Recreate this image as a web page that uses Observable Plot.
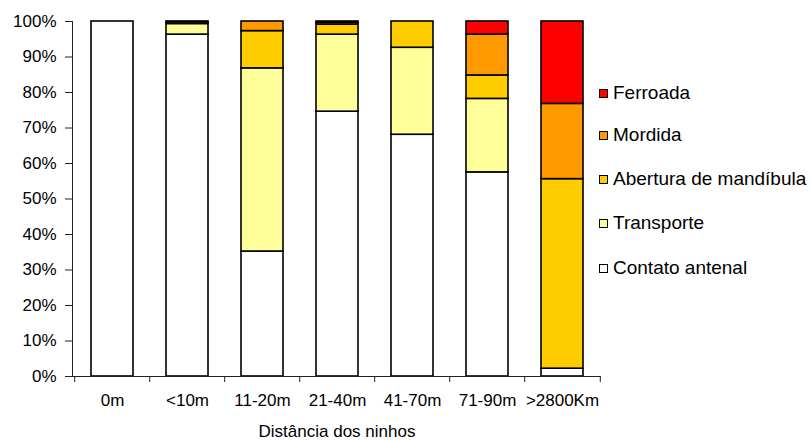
<!DOCTYPE html>
<html>
<head>
<meta charset="utf-8">
<script src="https://cdn.jsdelivr.net/npm/d3@7"></script>
<script src="https://cdn.jsdelivr.net/npm/@observablehq/plot@0.6"></script>
<style>
  html, body { margin: 0; padding: 0; background: #fff; }
  #wrap { position: relative; width: 812px; height: 441px; font-family: "Liberation Sans", Arial, sans-serif; }
  #legend { position: absolute; left: 599px; top: 0; z-index: 5; }
  .item { position: absolute; display: flex; align-items: center; white-space: nowrap; font-size: 19px; color: #000; transform: translateY(-50%); }
  .sw { width: 7px; height: 7px; border: 1px solid #000; margin-right: 5px; flex: none; }
</style>
</head>
<body>
<div id="wrap"><div id="legend"></div></div>
<script>
const categories = ["0m", "<10m", "11-20m", "21-40m", "41-70m", "71-90m", ">2800Km"];
const seriesNames = ["Contato antenal", "Transporte", "Abertura de mandíbula", "Mordida", "Ferroada"];
const seriesColors = ["#FFFFFF", "#FFFF99", "#FFCC00", "#FF9900", "#FF0000"];
const contato    = [100, 96.3, 35.2, 74.6, 68.1, 57.5, 2.2];
const transporte = [0, 3.0, 51.6, 21.7, 24.5, 20.7, 0];
const abertura   = [0, 0.5, 10.5, 2.8, 7.4, 6.6, 53.4];
const mordida    = [0, 0.2, 2.7, 0.5, 0, 11.5, 21.2];
const ferroada   = [0, 0, 0, 0.4, 0, 3.7, 23.2];
const yTicks = [0, 10, 20, 30, 40, 50, 60, 70, 80, 90, 100];
const xTitle = "Distância dos ninhos";

const seriesValues = [contato, transporte, abertura, mordida, ferroada];
const rows = [];
seriesNames.forEach((s, i) => categories.forEach((c, j) => {
  if (seriesValues[i][j] > 0) rows.push({cat: c, series: s, value: seriesValues[i][j]});
}));

const W = 812, H = 441, mL = 72, mR = 211, mT = 21, mB = 65;
const step = (W - mL - mR) / categories.length;

const chart = Plot.plot({
  width: W, height: H,
  marginLeft: mL, marginRight: mR, marginTop: mT, marginBottom: mB,
  style: {fontFamily: "'Liberation Sans', Arial, sans-serif", fontSize: "17px", color: "#000", background: "#fff"},
  x: {domain: categories, paddingInner: 0.44, paddingOuter: 0.22, label: null},
  y: {domain: [0, 100], label: null},
  color: {domain: seriesNames, range: seriesColors},
  marks: [
    Plot.barY(rows, {x: "cat", y: "value", fill: "series", order: seriesNames, stroke: "#000", strokeWidth: 1.6}),
    Plot.axisY({ticks: yTicks, tickFormat: d => d + "%", tickSize: 7, tickPadding: 9, stroke: "#222", label: null}),
    Plot.frame({anchor: "left", stroke: "#222"}),
    Plot.ruleY([0], {stroke: "#222"}),
    Plot.axisX({ticks: categories, text: null, tickSize: 6, dx: -step / 2, stroke: "#222", label: null}),
    Plot.axisX({ticks: [categories[categories.length - 1]], text: null, tickSize: 6, dx: step / 2, stroke: "#222", label: null}),
    Plot.axisX({tickSize: 0, tickPadding: 17, label: null}),
    Plot.text([xTitle], {text: d => d, frameAnchor: "bottom", dy: 55, fontSize: 17, lineAnchor: "middle", fill: "#000"})
  ]
});
chart.style.position = "absolute"; chart.style.left = "0"; chart.style.top = "0";
document.getElementById("wrap").insertBefore(chart, document.getElementById("legend"));

const legendY = [93, 135, 179, 223, 268];
const leg = document.getElementById("legend");
const order = [4, 3, 2, 1, 0];
order.forEach((si, k) => {
  const it = document.createElement("div");
  it.className = "item";
  it.style.top = legendY[k] + "px";
  const sw = document.createElement("span");
  sw.className = "sw";
  sw.style.background = seriesColors[si];
  const tx = document.createElement("span");
  tx.textContent = seriesNames[si];
  it.appendChild(sw); it.appendChild(tx);
  leg.appendChild(it);
});
</script>
</body>
</html>
